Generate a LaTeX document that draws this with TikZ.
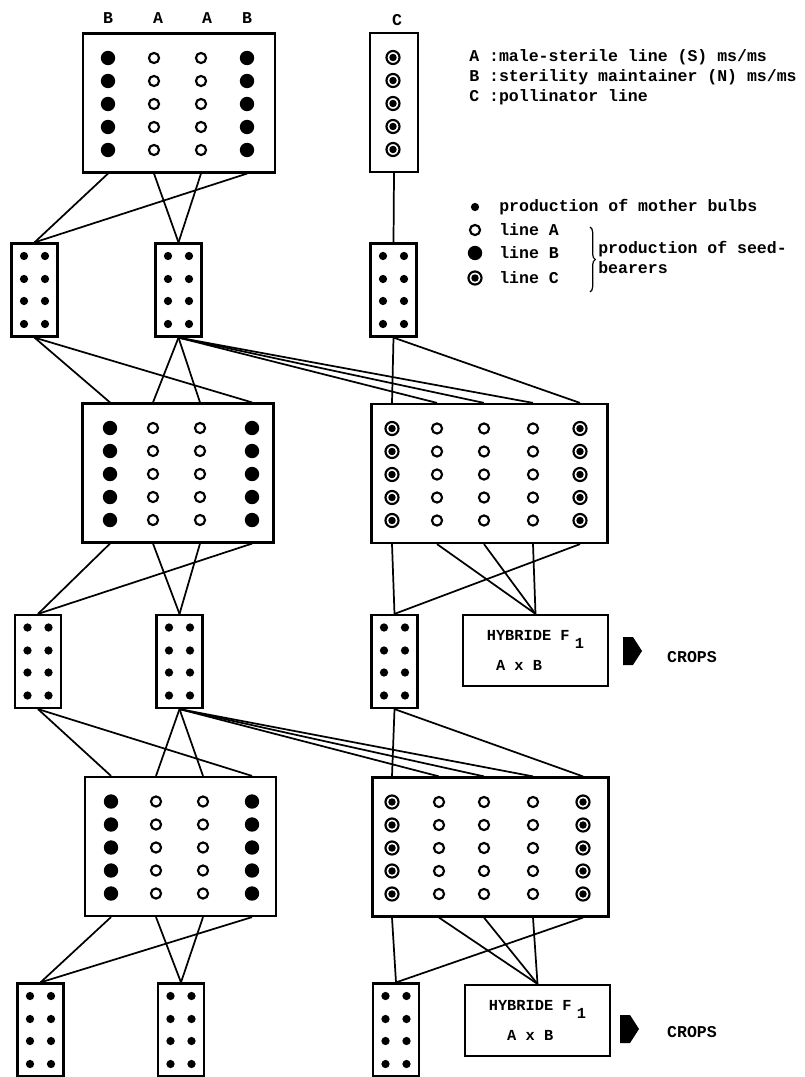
\documentclass[tikz,border=0pt]{standalone}
\usepackage{fontspec}
\setmonofont{Liberation Mono}
\usetikzlibrary{positioning,calc,decorations.pathreplacing}

\begin{document}
\begin{tikzpicture}[
	x=0.75pt, y=-0.75pt,
	font=\ttfamily\bfseries,
	bigbox/.style={
		draw=black,
		line width=1.9pt,
		minimum height=104pt,
		inner sep=0pt
	},
	bulbbox/.style={
		draw=black,
		line width=1.9pt,
		minimum width=34.5pt,
		minimum height=69.5pt,
		inner sep=0pt
	},
	hybrid/.style={
		draw=black,
		line width=1.9pt,
		minimum width=109pt,
		minimum height=53pt,
		align=left,
		font=\ttfamily\bfseries\fontsize{11.5}{13}\selectfont
	},
	dotA/.style={circle, draw=black, line width=1.6pt, minimum size=7.6pt, inner sep=0pt},
	dotB/.style={circle, fill=black, minimum size=10.8pt, inner sep=0pt},
	dotC/.style={circle, draw=black, line width=1.6pt, minimum size=9.8pt, inner sep=0pt,
		path picture={\fill[black] (path picture bounding box.center) circle (2.8pt);}},
	bulb/.style={circle, fill=black, minimum size=6.2pt, inner sep=0pt},
	link/.style={draw, line width=1.3pt},
	keytext/.style={inner sep=0pt, align=left, font=\ttfamily\bfseries\fontsize{12.4}{15}\selectfont},
	collabel/.style={inner sep=0pt, font=\ttfamily\bfseries\fontsize{12.4}{15}\selectfont}
	]
	
	\useasboundingbox (0,0) rectangle (804,1077);
	
	% column labels
	\node[collabel] (labB1) at (108,18) {B};
	\node[collabel] (labA1) at (158,18) {A};
	\node[collabel] (labA2) at (207,18) {A};
	\node[collabel] (labB2) at (247,18) {B};
	\node[collabel] (labC) at (397,20) {C};
	
	% first generation of seed-bearers
	\node[bigbox, minimum width=144pt] (P0) at (179,103) {};
	\foreach \col/\xx/\kind in {1/108/B, 2/154/A, 3/201/A, 4/247/B}{
		\coordinate (P0-\col) at (\xx,103);
		\foreach \row/\dy in {1/-45, 2/-22, 3/1, 4/24, 5/47}
			\node[dot\kind] (P0-\col-\row) at ($(P0-\col)+(0,\dy)$) {};
	}
	\node[bigbox, minimum width=36pt] (C0) at (394,102.5) {};
	\coordinate (C0-1) at (393,102.5);
	\foreach \row/\dy in {1/-45, 2/-22, 3/1, 4/24, 5/47}
		\node[dotC] (C0-1-\row) at ($(C0-1)+(0,\dy)$) {};
	
	% second generation
	\node[bigbox, minimum width=143pt] (P2a) at (178,473) {};
	\foreach \col/\xx/\kind in {1/110/B, 2/153/A, 3/200/A, 4/252/B}{
		\coordinate (P2a-\col) at (\xx,473);
		\foreach \row/\dy in {1/-45, 2/-22, 3/1, 4/24, 5/47}
			\node[dot\kind] (P2a-\col-\row) at ($(P2a-\col)+(0,\dy)$) {};
	}
	\node[bigbox, minimum width=177pt] (P2b) at (489.5,473.5) {};
	\foreach \col/\xx/\kind in {1/392/C, 2/437/A, 3/484/A, 4/533/A, 5/580/C}{
		\coordinate (P2b-\col) at (\xx,473.5);
		\foreach \row/\dy in {1/-45, 2/-22, 3/1, 4/24, 5/47}
			\node[dot\kind] (P2b-\col-\row) at ($(P2b-\col)+(0,\dy)$) {};
	}
	
	% third generation
	\node[bigbox, minimum width=143pt] (P4a) at (180.5,846.5) {};
	\foreach \col/\xx/\kind in {1/111/B, 2/156/A, 3/203/A, 4/252/B}{
		\coordinate (P4a-\col) at (\xx,846.5);
		\foreach \row/\dy in {1/-45, 2/-22, 3/1, 4/24, 5/47}
			\node[dot\kind] (P4a-\col-\row) at ($(P4a-\col)+(0,\dy)$) {};
	}
	\node[bigbox, minimum width=177pt] (P4b) at (490.5,847) {};
	\foreach \col/\xx/\kind in {1/392/C, 2/439/A, 3/484/A, 4/533/A, 5/583/C}{
		\coordinate (P4b-\col) at (\xx,847);
		\foreach \row/\dy in {1/-45, 2/-22, 3/1, 4/24, 5/47}
			\node[dot\kind] (P4b-\col-\row) at ($(P4b-\col)+(0,\dy)$) {};
	}
	
	% mother bulb plots
	\foreach \nm/\xx/\yy in {M1a/34.5/290, M1b/178.5/290, M1c/393.5/290,
		M3a/38/661.5, M3b/179.5/661.5, M3c/394.5/661.5,
		M5a/40.5/1030, M5b/181/1030, M5c/396/1030}{
		\node[bulbbox] (\nm) at (\xx,\yy) {};
		\foreach \col/\dx in {1/-10.5, 2/10.5}
			\foreach \row/\dy in {1/-34, 2/-11, 3/11, 4/34}
				\node[bulb] (\nm-\col\row) at ($(\nm)+(\dx,\dy)$) {};
	}
	
	% hybrids
	\node[hybrid] (H3) at (535.5,650.5) {HYBRIDE F\hspace{4pt}\raisebox{-1ex}{1}\\[8pt]~A x B};
	\node[hybrid] (H5) at (537.5,1020.5) {HYBRIDE F\hspace{4pt}\raisebox{-1ex}{1}\\[8pt]~~A x B};
	
	\coordinate (arr3) at (623,651);
	\fill (arr3) ++(0,-14) -- ++(10,0) -- ++(9,14) -- ++(-9,14) -- ++(-10,0) -- cycle;
	\node[keytext] (crops3) at (692,657) {CROPS};
	\coordinate (arr5) at (620,1029);
	\fill (arr5) ++(0,-14) -- ++(10,0) -- ++(9,14) -- ++(-9,14) -- ++(-10,0) -- cycle;
	\node[keytext] (crops5) at (692,1032) {CROPS};
	
	% links: plots down to bulbs
	\draw[link] (C0.south) -- (M1c.north);
	\foreach \src/\col/\dst in {P0/1/M1a, P0/4/M1a, P0/2/M1b, P0/3/M1b,
		P2a/1/M3a, P2a/4/M3a, P2a/2/M3b, P2a/3/M3b,
		P2b/1/M3c, P2b/5/M3c, P2b/2/H3, P2b/3/H3, P2b/4/H3,
		P4a/1/M5a, P4a/4/M5a, P4a/2/M5b, P4a/3/M5b,
		P4b/1/M5c, P4b/5/M5c, P4b/2/H5, P4b/3/H5, P4b/4/H5}
		\draw[link] (\src-\col |- \src.south) -- (\dst.north);
	
	% links: bulbs down to plots
	\foreach \src/\dst/\col in {M1a/P2a/1, M1a/P2a/4, M1b/P2a/2, M1b/P2a/3,
		M1b/P2b/2, M1b/P2b/3, M1b/P2b/4, M1c/P2b/1, M1c/P2b/5,
		M3a/P4a/1, M3a/P4a/4, M3b/P4a/2, M3b/P4a/3,
		M3b/P4b/2, M3b/P4b/3, M3b/P4b/4, M3c/P4b/1, M3c/P4b/5}
		\draw[link] (\src.south) -- (\dst-\col |- \dst.north);
	
	% key
	\node[keytext, anchor=west] (keylines) at (469,77)
	{A :male-sterile line (S) ms/ms\\B :sterility maintainer (N) ms/ms\\C :pollinator line};
	
	\node[bulb] (keyM) at (475,207) {};
	\node[keytext, right=18pt of keyM.center] (keyMtext) {production of mother bulbs};
	\node[dotA] (keyA) at (475,230) {};
	\node[keytext, right=18pt of keyA.center] (keyAtext) {line A};
	\node[dotB] (keyB) at (475,253) {};
	\node[keytext, right=18pt of keyB.center] (keyBtext) {line B};
	\node[dotC] (keyC) at (475,278) {};
	\node[keytext, right=18pt of keyC.center] (keyCtext) {line C};
	
	\coordinate (braceTop) at (590,227);
	\coordinate (braceBot) at (590,292);
	\draw[decorate, decoration={brace, amplitude=4pt}, line width=0.9pt] (braceTop) -- (braceBot);
	\node[keytext, anchor=west] (keySeed) at (598,257) {production of seed-\\bearers};
	
\end{tikzpicture}
\end{document}
